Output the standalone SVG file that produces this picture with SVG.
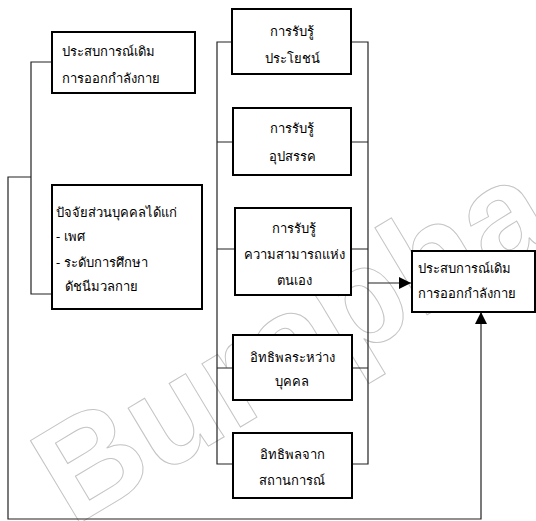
<svg xmlns="http://www.w3.org/2000/svg" width="536" height="521" viewBox="0 0 536 521">
<style>
.box{fill:#fff;stroke:#000;stroke-width:2}
.t{font-family:"Noto Sans","DejaVu Sans",sans-serif;font-size:13px;fill:#000}
.c{text-anchor:middle}
.ln{fill:none;stroke:#222;stroke-width:1.2}
.wm{font-family:"Liberation Sans",sans-serif;font-weight:bold;fill:none;stroke:#c4c4c4;stroke-width:1}
</style>
<defs>
<marker id="ah" viewBox="0 0 10 10" refX="10" refY="5" markerWidth="12" markerHeight="12" markerUnits="userSpaceOnUse" orient="auto"><path d="M0,0 L10,5 L0,10 z" fill="#000"/></marker>
</defs>
<rect width="536" height="521" fill="#fff"/>
<g id="watermark">
<text class="wm" font-size="140" transform="translate(72,528) rotate(-31)">Burapha</text>
</g>
<g id="connectors">
<path class="ln" d="M52,62 H31 V294 H52"/>
<path class="ln" d="M31,177 H8 V519 H481 V312" marker-end="url(#ah)"/>
<path class="ln" d="M232,42 H217 V464 H233"/>
<path class="ln" d="M217,142 H233 M217,249 H235 M217,368 H233"/>
<path class="ln" d="M351,42 H368 V464 H352"/>
<path class="ln" d="M351,142 H368 M351,249 H368 M352,368 H368"/>
<path class="ln" d="M368,283 H411" marker-end="url(#ah)"/>
</g>
<g id="n1"><rect class="box" x="52" y="32" width="143" height="61"/>
<text class="t" x="62" y="56">ประสบการณ์เดิม</text><text class="t" x="62" y="83">การออกกำลังกาย</text></g>
<g id="n2"><rect class="box" x="232" y="9" width="119" height="65"/>
<text class="t c" x="292" y="36">การรับรู้</text><text class="t c" x="292" y="63">ประโยชน์</text></g>
<g id="n3"><rect class="box" x="233" y="108" width="118" height="67"/>
<text class="t c" x="292" y="133">การรับรู้</text><text class="t c" x="292" y="161">อุปสรรค</text></g>
<g id="n4"><rect class="box" x="235" y="208" width="116" height="87"/>
<text class="t c" x="294" y="233">การรับรู้</text><text class="t c" x="294" y="259" font-size="12">ความสามารถแห่ง</text><text class="t c" x="294" y="285">ตนเอง</text></g>
<g id="n5"><rect class="box" x="233" y="335" width="119" height="65"/>
<text class="t c" x="292" y="362">อิทธิพลระหว่าง</text><text class="t c" x="292" y="386">บุคคล</text></g>
<g id="n6"><rect class="box" x="233" y="433" width="119" height="65"/>
<text class="t c" x="292" y="459">อิทธิพลจาก</text><text class="t c" x="292" y="485">สถานการณ์</text></g>
<g id="n7"><rect class="box" x="52" y="185" width="150" height="124"/>
<text class="t" x="56" y="217">ปัจจัยส่วนบุคคลได้แก่</text><text class="t" x="56" y="241">- เพศ</text><text class="t" x="56" y="267">- ระดับการศึกษา</text><text class="t" x="65" y="291">ดัชนีมวลกาย</text></g>
<g id="n8"><rect class="box" x="412" y="251" width="123" height="61"/>
<text class="t" x="418" y="273">ประสบการณ์เดิม</text><text class="t" x="418" y="298">การออกกำลังกาย</text></g>
</svg>
